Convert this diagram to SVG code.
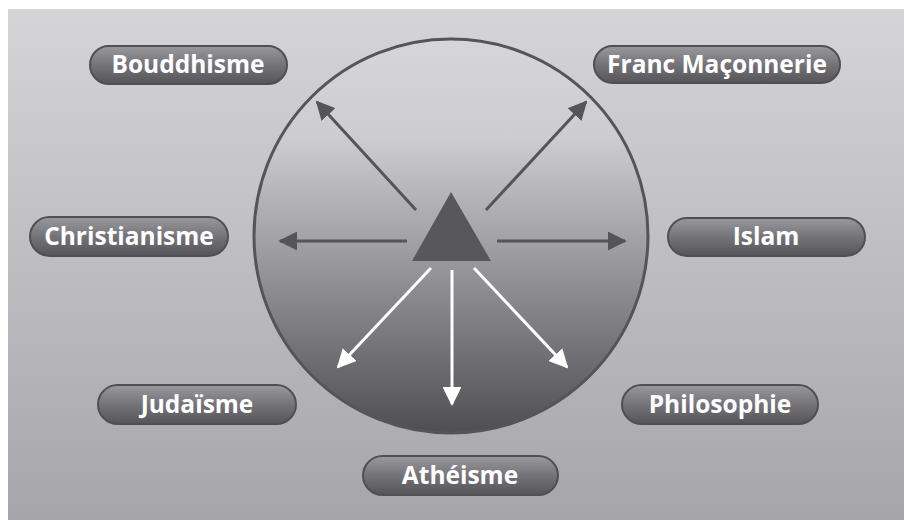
<svg xmlns="http://www.w3.org/2000/svg" width="904" height="520" viewBox="0 0 904 520">
<defs>
<linearGradient id="bg" x1="0" y1="0" x2="0" y2="1">
<stop offset="0" stop-color="#d5d5d7"/>
<stop offset="1" stop-color="#a6a6aa"/>
</linearGradient>
<linearGradient id="circ" x1="0" y1="0" x2="0" y2="1">
<stop offset="0" stop-color="#d6d6d8"/>
<stop offset="0.25" stop-color="#cdcdcf"/>
<stop offset="0.5" stop-color="#a4a4a8"/>
<stop offset="1" stop-color="#4f4f53"/>
</linearGradient>
<linearGradient id="pill" x1="0" y1="0" x2="0" y2="1">
<stop offset="0" stop-color="#9a9a9e"/>
<stop offset="0.5" stop-color="#747478"/>
<stop offset="1" stop-color="#555559"/>
</linearGradient>
<marker id="ad" viewBox="0 0 10 10" refX="9" refY="5" markerWidth="6.3" markerHeight="6.3" markerUnits="strokeWidth" orient="auto">
<path d="M0,0 L10,5 L0,10 z" fill="#555559"/>
</marker>
<marker id="aw" viewBox="0 0 10 10" refX="9" refY="5" markerWidth="6.3" markerHeight="6.3" markerUnits="strokeWidth" orient="auto">
<path d="M0,0 L10,5 L0,10 z" fill="#ffffff"/>
</marker>
</defs>
<style>
.pill{fill:url(#pill);stroke:#505054;stroke-width:2}
.lbl{font-family:"Open Sans","Liberation Sans",Arial,sans-serif;font-weight:bold;font-size:24.5px;fill:#ffffff;text-anchor:middle}
.dk{stroke:#555559;stroke-width:3;fill:none;marker-end:url(#ad)}
.wh{stroke:#ffffff;stroke-width:3;fill:none;marker-end:url(#aw)}
</style>
<rect x="8" y="9" width="896" height="511" fill="url(#bg)"/>
<g id="center">
<circle cx="451" cy="236" r="197" fill="url(#circ)" stroke="#555559" stroke-width="3"/>
<polygon points="451,192 412,261 491,261" fill="#58585c"/>
</g>
<g id="connectors">
<line class="dk" x1="416" y1="210" x2="317" y2="102"/>
<line class="dk" x1="486" y1="210" x2="586" y2="102"/>
<line class="dk" x1="407" y1="241" x2="280" y2="241"/>
<line class="dk" x1="497" y1="241" x2="625" y2="241"/>
<line class="wh" x1="431" y1="268" x2="338" y2="367"/>
<line class="wh" x1="452" y1="270" x2="452" y2="404"/>
<line class="wh" x1="474" y1="268" x2="567" y2="367"/>
</g>
<g id="bouddhisme">
<rect class="pill" x="90" y="46" width="197" height="38" rx="19"/>
<text class="lbl" x="188" y="73">Bouddhisme</text>
</g>
<g id="franc-maconnerie">
<rect class="pill" x="594" y="46" width="246" height="37" rx="18.5"/>
<text class="lbl" x="717" y="73">Franc Maçonnerie</text>
</g>
<g id="christianisme">
<rect class="pill" x="30" y="217" width="198" height="39" rx="19.5"/>
<text class="lbl" x="129" y="245">Christianisme</text>
</g>
<g id="islam">
<rect class="pill" x="668" y="218" width="197" height="38" rx="19"/>
<text class="lbl" x="766" y="245">Islam</text>
</g>
<g id="judaisme">
<rect class="pill" x="98" y="385" width="198" height="39" rx="19.5"/>
<text class="lbl" x="197" y="413">Judaïsme</text>
</g>
<g id="philosophie">
<rect class="pill" x="622" y="385" width="196" height="39" rx="19.5"/>
<text class="lbl" x="720" y="413">Philosophie</text>
</g>
<g id="atheisme">
<rect class="pill" x="363" y="456" width="195" height="39" rx="19.5"/>
<text class="lbl" x="460" y="484">Athéisme</text>
</g>
</svg>
